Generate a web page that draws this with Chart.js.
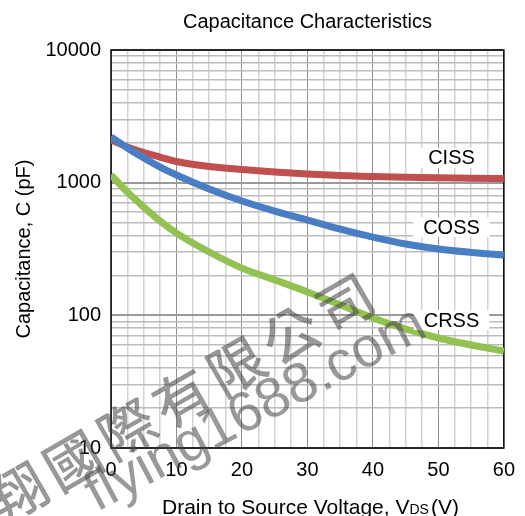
<!DOCTYPE html>
<html>
<head>
<meta charset="utf-8">
<title>Capacitance Characteristics</title>
<script src="https://cdn.jsdelivr.net/npm/chart.js@4.4.1/dist/chart.umd.min.js"></script>
<style>
  html, body { margin: 0; padding: 0; background: #fff; }
</style>
</head>
<body>
<canvas id="capChart" width="525" height="516"></canvas>
<script>
// drain-source voltage (V) and capacitances (pF)
const vds  = [0, 2.5, 5, 7.5, 10, 15, 20, 25, 30, 35, 40, 45, 50, 55, 60];
const ciss = [2097, 1857, 1688, 1561, 1444, 1323, 1257, 1203, 1162, 1132, 1113, 1098, 1088, 1080, 1075];
const coss = [2208, 1825, 1535, 1312, 1142, 896, 727, 611, 523, 447, 389, 345, 316, 298, 285];
const crss = [1142, 850, 655, 514, 417, 300, 227, 185, 150, 120, 95.5, 78.9, 67.5, 59.7, 53.8];

const seriesNames = ['CISS', 'COSS', 'CRSS'];
const xTickLabels = [0, 10, 20, 30, 40, 50, 60];
const yTickLabels = [10, 100, 1000, 10000];

const FONT = '"Liberation Sans", Arial, sans-serif';

// grid: every 2.5 V across, 1..9 per decade up
const xGrid = [];
for (let v = 0; v <= 60; v += 2.5) xGrid.push(v);
const yGrid = [];
for (let d = 10; d < 10000; d *= 10) {
  for (let m = 1; m <= 9; m++) yGrid.push(d * m);
}
yGrid.push(10000);

const pts = arr => arr.map((c, i) => ({ x: vds[i], y: c }));

// box around the plot
const frame = {
  id: 'frame',
  beforeDatasetsDraw(chart) {
    const { ctx, chartArea: a } = chart;
    ctx.save();
    ctx.strokeStyle = '#000';
    ctx.lineWidth = 1.5;
    ctx.strokeRect(a.left, a.top, a.right - a.left, a.bottom - a.top);
    ctx.restore();
  }
};

// CISS / COSS / CRSS tags sitting on white patches
const labelSpots = [[52, 1535], [52, 463], [52, 92]];
const curveLabels = {
  id: 'curveLabels',
  afterDatasetsDraw(chart) {
    const { ctx, scales: { x, y } } = chart;
    ctx.save();
    ctx.font = '20px ' + FONT;
    ctx.textAlign = 'center';
    ctx.textBaseline = 'middle';
    seriesNames.forEach((name, i) => {
      const px = x.getPixelForValue(labelSpots[i][0]);
      const py = y.getPixelForValue(labelSpots[i][1]);
      const w = ctx.measureText(name).width + 20;
      ctx.fillStyle = '#fff';
      ctx.fillRect(px - w / 2, py - 10, w, 20);
      ctx.fillStyle = '#000';
      ctx.fillText(name, px, py + 1);
    });
    ctx.restore();
  }
};

// heading centred over the plot, and the x title which needs a subscript
const titles = {
  id: 'titles',
  afterDraw(chart) {
    const { ctx, chartArea: a } = chart;
    const mid = (a.left + a.right) / 2;
    ctx.save();
    ctx.fillStyle = '#000';
    ctx.textBaseline = 'alphabetic';

    ctx.font = '20px ' + FONT;
    ctx.textAlign = 'center';
    ctx.fillText('Capacitance Characteristics', mid, 28);

    ctx.textAlign = 'left';
    const parts = [
      ['Drain to Source Voltage, V', '21px ' + FONT, 0],
      ['DS', '14px ' + FONT, 2],
      ['(V)', '21px ' + FONT, 0]
    ];
    let total = 0;
    parts.forEach(p => { ctx.font = p[1]; total += ctx.measureText(p[0]).width + p[2]; });
    let px = mid + 3 - total / 2;
    parts.forEach(p => {
      ctx.font = p[1];
      ctx.fillText(p[0], px, 514);
      px += ctx.measureText(p[0]).width + p[2];
    });
    ctx.restore();
  }
};

// distributor stamp across the lower left
const stamp = {
  id: 'stamp',
  afterDraw(chart) {
    const ctx = chart.ctx;
    ctx.save();
    ctx.fillStyle = 'rgba(70, 70, 70, 0.55)';
    ctx.strokeStyle = 'rgba(70, 70, 70, 0.3)';
    ctx.lineWidth = 1;
    ctx.textAlign = 'center';
    ctx.textBaseline = 'middle';
    ctx.font = '56px "Noto Sans CJK TC"';
    Array.from('翔國際有限公司').forEach((ch, i) => {
      ctx.save();
      ctx.translate(18 + i * 54.5, 492 - i * 31.5);
      ctx.rotate(-30 * Math.PI / 180);
      ctx.fillText(ch, 0, 0);
      ctx.strokeText(ch, 0, 0);
      ctx.restore();
    });

    ctx.translate(256, 410);
    ctx.rotate(-28 * Math.PI / 180);
    ctx.font = '56px ' + FONT;
    ctx.fillText('flying1688.com', 0, 0);
    ctx.restore();
  }
};

new Chart(document.getElementById('capChart'), {
  type: 'line',
  data: {
    datasets: [
      { label: seriesNames[0], data: pts(ciss), borderColor: '#c0504d', order: 1 },
      { label: seriesNames[1], data: pts(coss), borderColor: '#4a7ec4', order: 0 },
      { label: seriesNames[2], data: pts(crss), borderColor: '#93c252', order: 2 }
    ]
  },
  options: {
    responsive: false,
    animation: false,
    devicePixelRatio: 1,
    layout: { padding: { left: 0, right: 17, top: 50, bottom: 0 } },
    elements: {
      line: { borderWidth: 7, tension: 0.4, cubicInterpolationMode: 'monotone', fill: false },
      point: { radius: 0 }
    },
    datasets: { line: { clip: 0 } },
    plugins: {
      legend: { display: false },
      tooltip: { enabled: false },
      title: { display: false }
    },
    scales: {
      x: {
        type: 'linear',
        min: 0,
        max: 60,
        afterBuildTicks: s => { s.ticks = xGrid.map(v => ({ value: v })); },
        afterFit: s => { s.height = 68; },
        ticks: {
          autoSkip: false,
          maxRotation: 0,
          padding: 10,
          color: '#000',
          font: { family: FONT, size: 20 },
          callback: v => xTickLabels.includes(v) ? String(v) : ''
        },
        grid: {
          drawTicks: false,
          color: c => c.tick && c.tick.value % 10 === 0 ? '#8f8f8f' : '#d2d2d2',
          lineWidth: c => c.tick && c.tick.value % 10 === 0 ? 1 : 1.5
        },
        border: { display: false }
      },
      y: {
        type: 'logarithmic',
        min: 10,
        max: 10000,
        afterBuildTicks: s => { s.ticks = yGrid.map(v => ({ value: v })); },
        afterFit: s => { s.width = 111; },
        ticks: {
          autoSkip: false,
          padding: 10,
          color: '#000',
          font: { family: FONT, size: 20 },
          callback: v => yTickLabels.includes(v) ? String(v) : ''
        },
        grid: {
          drawTicks: false,
          color: c => c.tick && yTickLabels.includes(c.tick.value) ? '#9a9a9a' : '#bcbcbc',
          lineWidth: c => c.tick && yTickLabels.includes(c.tick.value) ? 2 : 1.5
        },
        border: { display: false },
        title: {
          display: true,
          text: 'Capacitance, C (pF)',
          color: '#000',
          font: { family: FONT, size: 20 },
          padding: { top: 12, bottom: 0 }
        }
      }
    }
  },
  plugins: [frame, curveLabels, titles, stamp]
});
</script>
</body>
</html>
